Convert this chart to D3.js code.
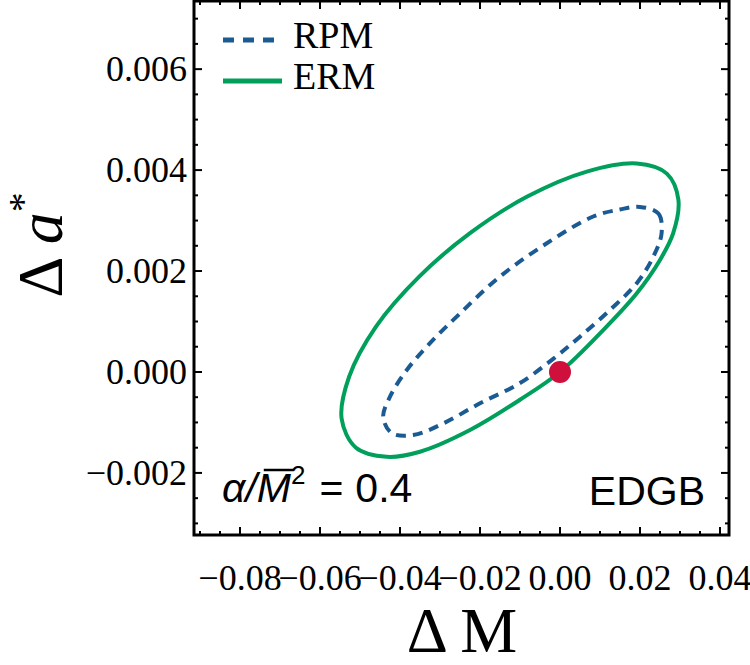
<!DOCTYPE html>
<html>
<head>
<meta charset="utf-8">
<script src="https://cdn.jsdelivr.net/npm/d3@7"></script>
<style>
  body { margin: 0; background: #fff; }
  text { font-family: "Liberation Serif", "Times New Roman", serif; }
</style>
</head>
<body>
<svg id="chart" width="750" height="665"></svg>
<script>
// ellipse outlines, [dM, da*]
const ermPoints = [
  [0.0192, 0.00413], [0.0267, 0.00393], [0.0296, 0.00341], [0.0283, 0.00275],
  [0.0250, 0.00222], [0.0192, 0.00156], [0.0108, 0.00083], [0.0000, 0.00000],
  [-0.0100, -0.00055], [-0.0225, -0.00115], [-0.0350, -0.00158], [-0.0433, -0.00168],
  [-0.0510, -0.00150], [-0.0546, -0.00092], [-0.0527, -0.00009], [-0.0460, 0.00090],
  [-0.0352, 0.00189], [-0.0225, 0.00275], [-0.0083, 0.00347], [0.0067, 0.00397]
];
const rpmPoints = [
  [0.0200, 0.00327], [0.0246, 0.00314], [0.0254, 0.00275], [0.0233, 0.00228],
  [0.0192, 0.00176], [0.0125, 0.00123], [0.0050, 0.00070], [-0.0017, 0.00026],
  [-0.0100, -0.00022], [-0.0200, -0.00062], [-0.0292, -0.00102], [-0.0367, -0.00125],
  [-0.0421, -0.00121], [-0.0442, -0.00089], [-0.0425, -0.00049], [-0.0383, 0.00004],
  [-0.0325, 0.00057], [-0.0250, 0.00116], [-0.0150, 0.00189], [-0.0033, 0.00255],
  [0.0083, 0.00308], [0.0150, 0.00322]
];
const truePoint = [0, 0];
const xTicks = [-0.08, -0.06, -0.04, -0.02, 0.00, 0.02, 0.04];
const yTicks = [-0.002, 0.000, 0.002, 0.004, 0.006];
const legendItems = ['RPM', 'ERM'];

const colors = { RPM: '#1b5b94', ERM: '#00a05c', dot: '#d0103c' };

const svg = d3.select('#chart');
const pLeft = 194, pRight = 729, pTop = 1, pBottom = 535;

const x = d3.scaleLinear().domain([-0.0915, 0.04225]).range([pLeft, pRight]);
const y = d3.scaleLinear().domain([-0.00323, 0.00735]).range([pBottom, pTop]);

const fmtX = d => (d < 0 ? '\u2212' : '') + Math.abs(d).toFixed(2);
const fmtY = d => (d < -1e-9 ? '\u2212' : '') + Math.abs(d).toFixed(3);

// minor ticks
const xMinor = d3.range(-0.09, 0.0425, 0.005);
const yMinor = d3.range(-0.003, 0.0074, 0.0005);

const ticks = svg.append('g').attr('stroke', '#000').attr('stroke-width', 2);
xMinor.forEach(v => {
  const major = xTicks.some(t => Math.abs(t - v) < 1e-6);
  const len = major ? 8 : 4;
  ticks.append('line').attr('x1', x(v)).attr('x2', x(v)).attr('y1', pBottom).attr('y2', pBottom - len);
  ticks.append('line').attr('x1', x(v)).attr('x2', x(v)).attr('y1', pTop).attr('y2', pTop + len);
});
yMinor.forEach(v => {
  const major = yTicks.some(t => Math.abs(t - v) < 1e-7);
  const len = major ? 8 : 4;
  ticks.append('line').attr('y1', y(v)).attr('y2', y(v)).attr('x1', pLeft).attr('x2', pLeft + len);
  ticks.append('line').attr('y1', y(v)).attr('y2', y(v)).attr('x1', pRight).attr('x2', pRight - len);
});

svg.append('g').selectAll('text').data(xTicks).join('text')
  .attr('x', d => x(d)).attr('y', 590)
  .attr('text-anchor', 'middle').attr('font-size', 36)
  .text(fmtX);

svg.append('g').selectAll('text').data(yTicks).join('text')
  .attr('x', 187).attr('y', d => y(d)).attr('dy', '0.33em')
  .attr('text-anchor', 'end').attr('font-size', 36)
  .text(fmtY);

// curves
const line = d3.line().x(d => x(d[0])).y(d => y(d[1])).curve(d3.curveCatmullRomClosed.alpha(0.5));

svg.append('path').attr('d', line(ermPoints))
  .attr('fill', 'none').attr('stroke', colors.ERM).attr('stroke-width', 4);
svg.append('path').attr('d', line(rpmPoints))
  .attr('fill', 'none').attr('stroke', colors.RPM).attr('stroke-width', 4)
  .attr('stroke-dasharray', '10,7');

svg.append('circle').attr('cx', x(truePoint[0])).attr('cy', y(truePoint[1]))
  .attr('r', 11).attr('fill', colors.dot);

// frame
svg.append('rect').attr('x', pLeft).attr('y', pTop).attr('width', pRight - pLeft).attr('height', pBottom - pTop)
  .attr('fill', 'none').attr('stroke', '#000').attr('stroke-width', 3);

// legend
const leg = svg.append('g');
legendItems.forEach((name, i) => {
  const ly = 40 + i * 41;
  leg.append('line').attr('x1', 223).attr('x2', 282).attr('y1', ly).attr('y2', ly)
    .attr('stroke', colors[name]).attr('stroke-width', 5)
    .attr('stroke-dasharray', name === 'RPM' ? '11,9' : null);
  leg.append('text').attr('x', 293).attr('y', ly + 8).attr('font-size', 38).text(name);
});

// annotations
const ann = svg.append('text').attr('x', 222).attr('y', 502)
  .style('font-family', '"Liberation Sans", Arial, sans-serif').attr('font-size', 41);
ann.append('tspan').attr('font-style', 'italic').text('\u03b1/M');
ann.append('tspan').attr('font-size', 26).attr('dy', -18).text('2');
ann.append('tspan').attr('dy', 18).attr('dx', 14).text('=');
ann.append('tspan').attr('dx', 12).text('0.4');
const mBox = ann.node().getExtentOfChar(2);
svg.append('line').attr('x1', mBox.x + 7).attr('x2', mBox.x + mBox.width + 3)
  .attr('y1', mBox.y + 5).attr('y2', mBox.y + 5).attr('stroke', '#000').attr('stroke-width', 2.5);

svg.append('text').attr('x', 705).attr('y', 505).attr('text-anchor', 'end')
  .style('font-family', '"Liberation Sans", Arial, sans-serif').attr('font-size', 41).text('EDGB');

// axis titles
svg.append('text').attr('x', 462).attr('y', 652).attr('text-anchor', 'middle')
  .attr('font-size', 64).text('\u0394 M');

const yt = svg.append('text').attr('transform', 'translate(62,245) rotate(-90)')
  .attr('text-anchor', 'middle').attr('font-size', 64);
yt.append('tspan').text('\u0394 ');
yt.append('tspan').attr('font-style', 'italic').text('a');
yt.append('tspan').attr('font-size', 40).attr('dy', -26).text('*');
</script>
</body>
</html>
